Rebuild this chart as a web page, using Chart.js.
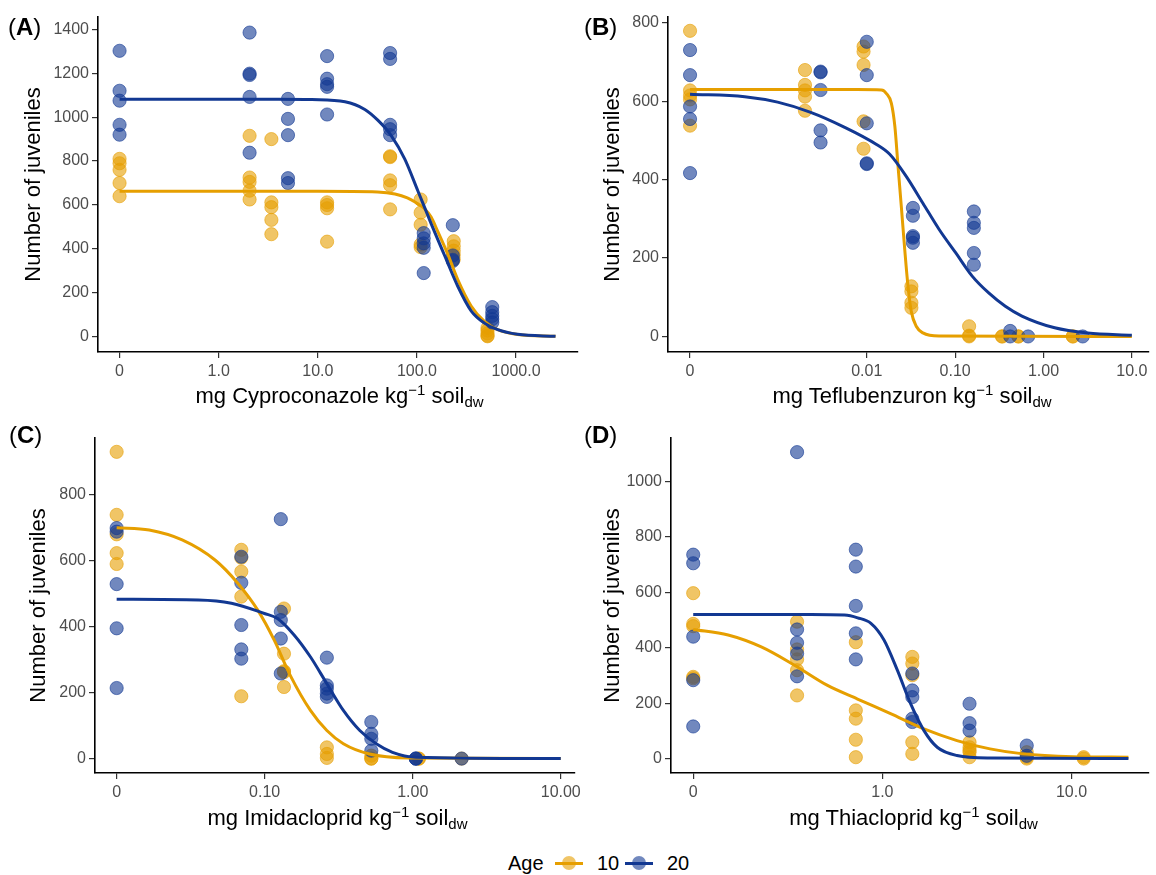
<!DOCTYPE html>
<html>
<head>
<meta charset="utf-8">
<script src="https://cdn.jsdelivr.net/npm/chart.js@4.4.1/dist/chart.umd.min.js"></script>
<style>
  body { margin: 0; background: #fff; }
  #fig { position: relative; width: 1156px; height: 875px; font-family: "Liberation Sans", Arial, sans-serif; color: #000; }
  #fig canvas { position: absolute; }
  .tag { position: absolute; font-size: 24px; line-height: 24px; }
  .xt { position: absolute; text-align: center; font-size: 22px; line-height: 24px; white-space: nowrap; }
  .xt sup, .xt sub { font-size: 0.68em; line-height: 0; }
  .xt sup { vertical-align: 0.55em; }
  .xt sub { vertical-align: -0.3em; }
  .lg { position: absolute; font-size: 20px; line-height: 24px; top: 851px; }
  .key { position: absolute; top: 851px; width: 28px; height: 24px; }
  .key .ln { position: absolute; left: 0; right: 0; top: 10.5px; height: 3px; }
  .key .pt { position: absolute; left: 7px; top: 5px; width: 14px; height: 14px; border-radius: 50%; }
</style>
</head>
<body>
<div id="fig">
  <canvas id="cA" width="585" height="400" style="left:0;top:0"></canvas>
  <canvas id="cB" width="571" height="400" style="left:585px;top:0"></canvas>
  <canvas id="cC" width="585" height="390" style="left:0;top:420px"></canvas>
  <canvas id="cD" width="571" height="390" style="left:585px;top:420px"></canvas>

  <div class="tag" style="left:8px;top:15px">(<b>A</b>)</div>
  <div class="tag" style="left:584px;top:15px">(<b>B</b>)</div>
  <div class="tag" style="left:9px;top:423px">(<b>C</b>)</div>
  <div class="tag" style="left:584px;top:423px">(<b>D</b>)</div>

  <div class="xt" style="left:98px;width:483px;top:384px">mg Cyproconazole kg<sup>−1</sup> soil<sub>dw</sub></div>
  <div class="xt" style="left:668px;width:488px;top:384px">mg Teflubenzuron kg<sup>−1</sup> soil<sub>dw</sub></div>
  <div class="xt" style="left:95px;width:485px;top:806px">mg Imidacloprid kg<sup>−1</sup> soil<sub>dw</sub></div>
  <div class="xt" style="left:671px;width:485px;top:806px">mg Thiacloprid kg<sup>−1</sup> soil<sub>dw</sub></div>

  <div class="lg" style="left:508px">Age</div>
  <div class="key" style="left:555px"><div class="ln" style="background:rgb(230,159,0)"></div><div class="pt" style="background:rgba(230,159,0,0.6)"></div></div>
  <div class="lg" style="left:597px">10</div>
  <div class="key" style="left:625px"><div class="ln" style="background:rgb(18,56,146)"></div><div class="pt" style="background:rgba(18,56,146,0.6)"></div></div>
  <div class="lg" style="left:667px">20</div>
</div>

<script>
// colours for age 10 (orange) and age 20 (blue)
const ORANGE = "230,159,0";
const BLUE = "18,56,146";

// ---- (A) Cyproconazole ----
const A_doses10 = [0, 2.05, 3.4, 12.4, 53.6, 109, 235, 515];
const A_juv10 = [[810, 790, 760, 700, 640], [915, 725, 705, 665, 625], [900, 612, 590, 532, 467],
  [612, 600, 585, 433], [822, 818, 712, 690, 580], [625, 565, 510, 420, 408],
  [435, 412, 392, 372, 352], [40, 28, 15, 5, 2]];
const A_doses20 = [0, 2.05, 5.0, 12.4, 53.6, 117, 230, 575];
const A_juv20 = [[1302, 1120, 1075, 965, 920], [1385, 1198, 1192, 1092, 838], [1083, 992, 918, 722, 700],
  [1278, 1175, 1150, 1138, 1012], [1292, 1265, 965, 945, 918], [472, 448, 425, 405, 290],
  [508, 370, 350, 345], [135, 112, 95, 80, 65]];
const A_fit10x = [0, 10, 40, 60, 80, 102, 118, 139, 162, 205, 258, 352, 479, 652, 1035, 2500];
const A_fit10y = [662, 662, 659, 650, 632, 605, 585, 545, 480, 375, 260, 140, 70, 32, 10, 2];
const A_fit20x = [0, 4, 8.7, 18.8, 29.8, 40.5, 55.2, 75.2, 102, 118, 139, 190, 258, 352, 479, 652, 1035, 2500];
const A_fit20y = [1082, 1082, 1080, 1070, 1035, 985, 915, 810, 665, 595, 515, 370, 230, 118, 62, 32, 11, 2];
const A_xticks = [0, 1, 10, 100, 1000];
const A_xlabels = ["0", "1.0", "10.0", "100.0", "1000.0"];
const A_yticks = [0, 200, 400, 600, 800, 1000, 1200, 1400];

// ---- (B) Teflubenzuron ----
const B_doses10 = [0, 0.002, 0.0092, 0.032, 0.144, 0.34, 0.52, 2.15];
const B_juv10 = [[780, 628, 615, 605, 538], [680, 642, 628, 612, 576], [740, 727, 693, 549, 479],
  [128, 115, 86, 73], [26, 2, 0], [0, 0], [0, 0], [0, 0]];
const B_doses20 = [0, 0.003, 0.01, 0.0333, 0.163, 0.42, 0.67, 2.78];
const B_juv20 = [[731, 667, 587, 555, 417], [676, 674, 629, 526, 495], [752, 667, 544, 442, 440],
  [328, 308, 256, 252, 239], [319, 290, 277, 213, 183], [14, 0], [0], [0]];
const B_fit10x = [0, 0.0077, 0.0147, 0.0167, 0.019, 0.0208, 0.0226, 0.0246, 0.0269, 0.0293, 0.0319, 0.0363, 0.0432, 0.066, 10];
const B_fit10y = [630, 630, 629, 620, 595, 536, 434, 332, 222, 128, 64, 26, 9, 1, 0];
const B_fit20x = [0, 0.000416, 0.00098, 0.00232, 0.00548, 0.0129, 0.0182, 0.0281, 0.0432, 0.066, 0.1018, 0.156, 0.24, 0.37, 0.57, 1.34, 3.16, 10];
const B_fit20y = [618, 612, 598, 572, 535, 490, 465, 408, 340, 273, 213, 154, 111, 77, 52, 22, 9, 3];
const B_xticks = [0, 0.01, 0.1, 1, 10];
const B_xlabels = ["0", "0.01", "0.10", "1.00", "10.0"];
const B_yticks = [0, 200, 400, 600, 800];

// ---- (C) Imidacloprid ----
const C_doses10 = [0, 0.0695, 0.135, 0.263, 0.525, 1.1, 2.14];
const C_juv10 = [[930, 739, 680, 623, 590], [633, 609, 567, 491, 189], [455, 318, 265, 262, 217],
  [34, 14, 2], [9, 0, 0], [0, 0], [0]];
const C_doses20 = [0, 0.0695, 0.1285, 0.263, 0.525, 1.05, 2.14];
const C_juv20 = [[699, 688, 529, 395, 214], [612, 533, 405, 331, 303], [726, 445, 420, 364, 258],
  [306, 222, 212, 197, 187], [111, 75, 60, 24], [0, 0, 0], [0]];
const C_fit10x = [0, 0.0166, 0.0277, 0.0462, 0.066, 0.0898, 0.116, 0.1497, 0.2037, 0.263, 0.34, 0.51, 0.94, 10];
const C_fit10y = [700, 693, 663, 602, 531, 450, 359, 250, 146, 85, 45, 14, 2, 0];
const C_fit20x = [0, 0.0357, 0.0596, 0.0995, 0.122, 0.158, 0.204, 0.263, 0.34, 0.439, 0.567, 0.73, 1.05, 10];
const C_fit20y = [483, 481, 471, 440, 425, 375, 308, 227, 146, 85, 45, 19, 4, 0];
const C_xticks = [0, 0.1, 1, 10];
const C_xlabels = ["0", "0.10", "1.00", "10.00"];
const C_yticks = [0, 200, 400, 600, 800];

// ---- (D) Thiacloprid ----
const D_doses10 = [0, 0.354, 0.724, 1.44, 2.89, 5.8, 11.6];
const D_juv10 = [[597, 486, 478, 295, 290], [494, 394, 358, 319, 228], [420, 174, 144, 68, 5],
  [367, 343, 301, 59, 17], [59, 41, 30, 23, 5], [23, 5, 0], [5, 0]];
const D_doses20 = [0, 0.354, 0.724, 1.44, 2.89, 5.8];
const D_juv20 = [[736, 705, 440, 283, 116], [1106, 466, 418, 379, 297], [754, 693, 551, 452, 358],
  [307, 246, 222, 144, 132], [198, 128, 101], [47, 10]];
const D_fit10x = [0, 0.153, 0.229, 0.343, 0.513, 0.739, 1.105, 1.66, 2.48, 3.71, 5.56, 10.2, 20];
const D_fit10y = [466, 446, 403, 337, 264, 215, 162, 107, 65, 35, 17, 7, 5];
const D_fit20x = [0, 0.42, 0.63, 0.74, 0.87, 1.02, 1.2, 1.41, 1.66, 1.95, 2.48, 3.71, 20];
const D_fit20y = [520, 520, 518, 508, 488, 428, 319, 198, 101, 41, 11, 2, 0];
const D_xticks = [0, 1, 10];
const D_xlabels = ["0", "1.0", "10.0"];
const D_yticks = [0, 200, 400, 600, 800, 1000];


// dose 0 is shown one step left of the first real tick on the log axis
function pts(doses, counts, zero) {
  const out = [];
  doses.forEach((d, i) => counts[i].forEach(c => out.push({ x: d === 0 ? zero : d, y: c })));
  return out;
}

function fit(xs, ys, zero) {
  return xs.map((x, i) => ({ x: x === 0 ? zero : x, y: ys[i] }));
}

function lineSet(data, rgb) {
  return {
    data: data, showLine: true, pointRadius: 0, borderColor: "rgb(" + rgb + ")",
    borderWidth: 3, cubicInterpolationMode: "monotone", fill: false
  };
}

function pointSet(data, rgb) {
  return {
    data: data, showLine: false, pointRadius: 6.6, pointBorderWidth: 1,
    backgroundColor: "rgba(" + rgb + ",0.6)", borderColor: "rgba(" + rgb + ",0.6)"
  };
}

function makePanel(id, p) {
  const tickFont = { family: "'Liberation Sans', Arial, sans-serif", size: 16 };
  new Chart(document.getElementById(id), {
    type: "scatter",
    data: {
      datasets: [
        lineSet(fit(p.fit20x, p.fit20y, p.zero), BLUE),
        lineSet(fit(p.fit10x, p.fit10y, p.zero), ORANGE),
        pointSet(pts(p.doses20, p.juv20, p.zero), BLUE),
        pointSet(pts(p.doses10, p.juv10, p.zero), ORANGE)
      ]
    },
    options: {
      responsive: false,
      animation: false,
      layout: { padding: { top: p.padTop, right: p.padRight, left: 0, bottom: 0 } },
      plugins: { legend: { display: false }, tooltip: { enabled: false } },
      scales: {
        x: {
          type: "logarithmic",
          min: p.xmin,
          max: p.xmax,
          afterBuildTicks: s => { s.ticks = p.xticks.map(v => ({ value: v === 0 ? p.zero : v })); },
          afterFit: s => { s.height = p.xHeight; },
          ticks: {
            autoSkip: false, maxRotation: 0, padding: 4, color: "#4d4d4d", font: tickFont,
            callback: (v, i) => p.xlabels[i]
          },
          grid: { drawOnChartArea: false, tickLength: 6, color: "#333", lineWidth: 1.2 },
          border: { display: true, color: "#000", width: 1.6 }
        },
        y: {
          min: p.ymin,
          max: p.ymax,
          afterBuildTicks: s => { s.ticks = p.yticks.map(v => ({ value: v })); },
          afterFit: s => { s.width = p.yWidth; },
          ticks: { padding: 3, color: "#4d4d4d", font: tickFont, callback: v => String(v) },
          grid: { drawOnChartArea: false, tickLength: 6, color: "#333", lineWidth: 1.2 },
          border: { display: true, color: "#000", width: 1.6 },
          title: {
            display: true, text: "Number of juveniles", color: "#000",
            font: { family: "'Liberation Sans', Arial, sans-serif", size: 22 },
            padding: { top: p.titlePad, bottom: 0 }
          }
        }
      }
    }
  });
}

makePanel("cA", {
  zero: 0.1, xmin: 0.0606, xmax: 4155, ymin: -69.5, ymax: 1456,
  xticks: A_xticks, xlabels: A_xlabels, yticks: A_yticks,
  doses10: A_doses10, juv10: A_juv10, doses20: A_doses20, juv20: A_juv20,
  fit10x: A_fit10x, fit10y: A_fit10y, fit20x: A_fit20x, fit20y: A_fit20y,
  padTop: 17, padRight: 4, yWidth: 98, xHeight: 48, titlePad: 21
});

makePanel("cB", {
  zero: 0.0001, xmin: 0.0000563, xmax: 15.4, ymin: -39.7, ymax: 815.3,
  xticks: B_xticks, xlabels: B_xlabels, yticks: B_yticks,
  doses10: B_doses10, juv10: B_juv10, doses20: B_doses20, juv20: B_juv20,
  fit10x: B_fit10x, fit10y: B_fit10y, fit20x: B_fit20x, fit20y: B_fit20y,
  padTop: 17, padRight: 0, yWidth: 83, xHeight: 48, titlePad: 15
});

makePanel("cC", {
  zero: 0.01, xmin: 0.00714, xmax: 12.5, ymin: -43.7, ymax: 972,
  xticks: C_xticks, xlabels: C_xlabels, yticks: C_yticks,
  doses10: C_doses10, juv10: C_juv10, doses20: C_doses20, juv20: C_juv20,
  fit10x: C_fit10x, fit10y: C_fit10y, fit20x: C_fit20x, fit20y: C_fit20y,
  padTop: 18, padRight: 5, yWidth: 95, xHeight: 37, titlePad: 26
});

makePanel("cD", {
  zero: 0.1, xmin: 0.0763, xmax: 25.5, ymin: -52, ymax: 1157,
  xticks: D_xticks, xlabels: D_xlabels, yticks: D_yticks,
  doses10: D_doses10, juv10: D_juv10, doses20: D_doses20, juv20: D_juv20,
  fit10x: D_fit10x, fit10y: D_fit10y, fit20x: D_fit20x, fit20y: D_fit20y,
  padTop: 18, padRight: 0, yWidth: 86, xHeight: 37, titlePad: 15
});
</script>
</body>
</html>
